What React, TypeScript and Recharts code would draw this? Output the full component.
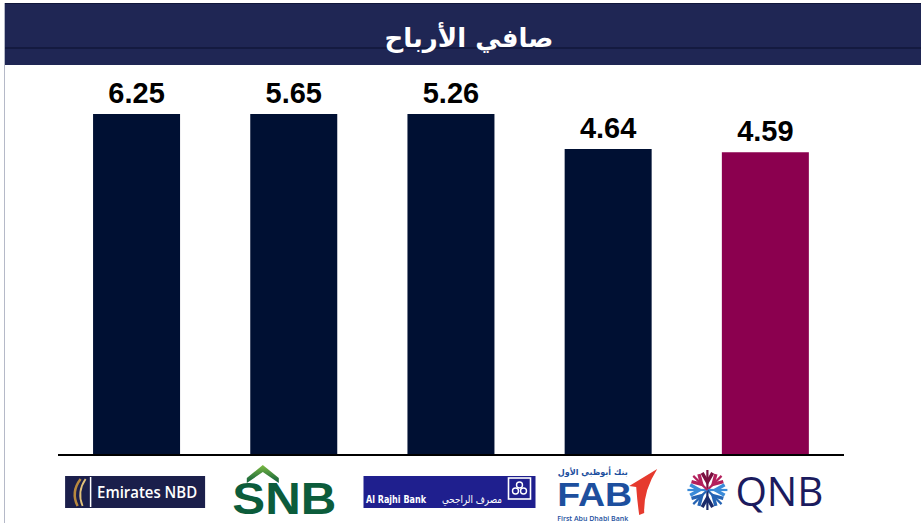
import React from "react";
import { Bar, BarChart, Cell, LabelList, XAxis, YAxis } from "recharts";

// banks and net profit values (bn)
const banks = ["Emirates NBD", "SNB", "Al Rajhi Bank", "FAB", "QNB"];
const netProfit = [6.25, 5.65, 5.26, 4.64, 4.59];
const barColors = ["#001033", "#001033", "#001033", "#001033", "#8b004f"];

const TITLE = "صافي الأرباح";
const AXIS_CAP = 5.17;
const PLOT_TOP = 114;

const chartData = banks.map((name, i) => ({
  name,
  value: netProfit[i],
  color: barColors[i],
}));

const renderLabel = (props: any) => {
  const { x, y, width, value } = props;
  const top = Math.max(y, PLOT_TOP);
  return (
    <text
      x={x + width / 2}
      y={top - 11}
      textAnchor="middle"
      fontFamily="'Liberation Sans', Arial, sans-serif"
      fontWeight="bold"
      fontSize={29}
      fill="#000"
    >
      {Number(value).toFixed(2)}
    </text>
  );
};

const QnbIcon = ({ cx, cy }: { cx: number; cy: number }) => {
  const arms = [
    { a: -90, c: "#7a1040" },
    { a: -45, c: "#b3205c" },
    { a: 0, c: "#3a8ad8" },
    { a: 45, c: "#2563b3" },
    { a: 90, c: "#1b2a6a" },
    { a: 135, c: "#2563b3" },
    { a: 180, c: "#3a8ad8" },
    { a: 225, c: "#b3205c" },
  ];
  const p = (r: number, deg: number) => {
    const rad = (deg * Math.PI) / 180;
    return [cx + r * Math.cos(rad), cy + r * Math.sin(rad)];
  };
  return (
    <g>
      {arms.map((arm, i) => {
        const [ex, ey] = p(20, arm.a);
        return (
          <g key={i} stroke={arm.c} fill="none" strokeWidth={3.4}>
            <polyline points={`${p(18, arm.a - 17).join(",")} ${p(8, arm.a).join(",")} ${p(18, arm.a + 17).join(",")}`} />
            <line x1={cx} y1={cy} x2={ex} y2={ey} strokeWidth={2.2} />
          </g>
        );
      })}
    </g>
  );
};

const LogoTick = (props: any) => {
  const { x, payload } = props;
  const name = payload.value;
  const base = 455;
  let logo: React.ReactNode = null;

  if (name === "Emirates NBD") {
    logo = (
      <g>
        <rect x={-71.5} y={21} width={140} height={32} fill="#1b1f4b" />
        <line x1={-46} y1={22} x2={-46} y2={52} stroke="#fff" strokeWidth={1.5} />
        <path d="M -56 24 Q -66 37 -59 51" stroke="#b8893e" strokeWidth={2.5} fill="none" />
        <path d="M -51 24 Q -60 37 -54 51" stroke="#e2c27a" strokeWidth={1.8} fill="none" />
        <text x={10.5} y={43} textAnchor="middle" fontFamily="'Open Sans', sans-serif" fontWeight={600} fontSize={16} fill="#fff" textLength={100} lengthAdjust="spacingAndGlyphs">
          Emirates NBD
        </text>
      </g>
    );
  } else if (name === "SNB") {
    logo = (
      <g>
        <defs>
          <linearGradient id="snbRoof" x1="0" y1="0" x2="0" y2="1">
            <stop offset="0%" stopColor="#7dbb42" />
            <stop offset="100%" stopColor="#0c5c3b" />
          </linearGradient>
        </defs>
        <path d="M -31 10 L -15 23 L -15 28 L -31 17 L -47 28 L -47 23 Z" fill="url(#snbRoof)" />
        <text x={-61.5} y={58.5} fontFamily="'Liberation Sans', Arial, sans-serif" fontWeight="bold" fontSize={44} fill="#0c5c3b" textLength={104} lengthAdjust="spacingAndGlyphs">
          SNB
        </text>
      </g>
    );
  } else if (name === "Al Rajhi Bank") {
    logo = (
      <g>
        <rect x={-87.5} y={21} width={172} height={32} fill="#1f1f8e" />
        <text x={-85} y={48} fontFamily="'DejaVu Sans', sans-serif" fontWeight={600} fontSize={11} fill="#fff" textLength={60} lengthAdjust="spacingAndGlyphs">
          Al Rajhi Bank
        </text>
        <text x={51} y={48} textAnchor="end" fontFamily="'DejaVu Sans', sans-serif" fontSize={10.5} fill="#fff" textLength={60} lengthAdjust="spacingAndGlyphs">
          مصرف الراجحي
        </text>
        <rect x={57.5} y={23} width={22} height={21} fill="none" stroke="#fff" strokeWidth={1.6} />
        <circle cx={68.5} cy={30} r={3} fill="none" stroke="#fff" strokeWidth={1.4} />
        <circle cx={64.5} cy={36} r={3} fill="none" stroke="#fff" strokeWidth={1.4} />
        <circle cx={72.5} cy={36} r={3} fill="none" stroke="#fff" strokeWidth={1.4} />
      </g>
    );
  } else if (name === "FAB") {
    logo = (
      <g>
        <text x={-15.5} y={20} textAnchor="middle" fontFamily="'DejaVu Sans', sans-serif" fontWeight="bold" fontSize={8.5} fill="#1d4f9e" textLength={70} lengthAdjust="spacingAndGlyphs">
          بنك أبوظبي الأول
        </text>
        <text x={-51} y={51} fontFamily="'Liberation Sans', Arial, sans-serif" fontWeight="bold" fontSize={33} fill="#1d4f9e" textLength={75} lengthAdjust="spacingAndGlyphs">
          FAB
        </text>
        <path d="M 49 14 L 21 31 L 28 32 Q 29 46 31 60 L 36 58 Q 35 36 49 14 Z" fill="#e63a2e" />
        <text x={-51} y={65.5} fontFamily="'Open Sans', sans-serif" fontWeight={600} fontSize={7.5} fill="#1d4f9e" textLength={71} lengthAdjust="spacingAndGlyphs">
          First Abu Dhabi Bank
        </text>
      </g>
    );
  } else if (name === "QNB") {
    logo = (
      <g>
        <QnbIcon cx={-58} cy={35} />
        <text x={-30} y={51} fontFamily="'Open Sans', sans-serif" fontWeight={500} fontSize={40} fill="#1b1b5e" textLength={88} lengthAdjust="spacingAndGlyphs">
          QNB
        </text>
      </g>
    );
  }

  return <g transform={`translate(${x},${base})`}>{logo}</g>;
};

const App: React.FC = () => {
  return (
    <div
      style={{
        position: "absolute",
        left: 0,
        top: 0,
        width: 921,
        height: 523,
        background: "#fff",
        overflow: "hidden",
      }}
    >
      {/* Title bar */}
      <div
        style={{
          position: "absolute",
          left: 4,
          top: 3,
          width: 917,
          height: 62,
          background: "#1f2654",
          borderTop: "1px solid #10163a",
          boxSizing: "border-box",
        }}
      >
        <div style={{ position: "absolute", left: 0, top: 43, width: "100%", height: 1.5, background: "#141a40" }} />
        <div
          dir="rtl"
          style={{
            position: "absolute",
            left: 0,
            top: 17,
            width: 930,
            textAlign: "center",
            color: "#fff",
            fontFamily: "'DejaVu Sans', sans-serif",
            fontWeight: "bold",
            fontSize: 26,
            lineHeight: "34px",
          }}
        >
          {TITLE}
        </div>
      </div>
      <div style={{ position: "absolute", left: 4, top: 3, width: 1, height: 520, background: "#b5b9c8" }} />

      <div style={{ position: "absolute", left: 0, top: 0 }}>
        <BarChart
          width={921}
          height={523}
          data={chartData}
          margin={{ top: PLOT_TOP, right: 77, bottom: 0, left: 58 }}
          barCategoryGap="22.3%"
        >
          <XAxis
            dataKey="name"
            height={68}
            axisLine={{ stroke: "#000", strokeWidth: 2 }}
            tickLine={false}
            tick={<LogoTick />}
            interval={0}
          />
          <YAxis hide domain={[0, AXIS_CAP]} allowDataOverflow />
          <Bar dataKey="value" isAnimationActive={false}>
            {chartData.map((entry, index) => (
              <Cell key={`cell-${index}`} fill={entry.color} />
            ))}
            <LabelList dataKey="value" content={renderLabel} />
          </Bar>
        </BarChart>
      </div>
    </div>
  );
};

export default App;
